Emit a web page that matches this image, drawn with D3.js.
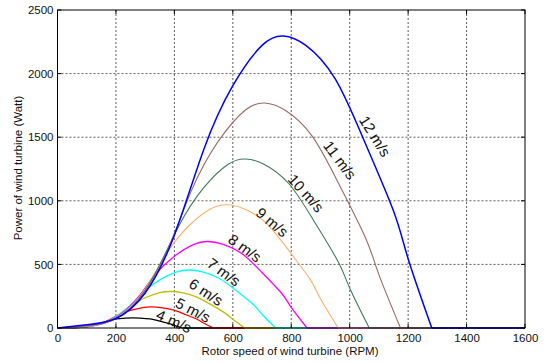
<!DOCTYPE html>
<html><head><meta charset="utf-8">
<script src="https://cdn.jsdelivr.net/npm/d3@7"></script>
<style>body{margin:0;background:#fff}svg{display:block}text{font-family:"Liberation Sans",Arial,sans-serif}</style>
</head><body><svg id="c" width="546" height="363"></svg>
<script>
const speeds = ["4 m/s","5 m/s","6 m/s","7 m/s","8 m/s","9 m/s","10 m/s","11 m/s","12 m/s"];
const rpm4 = [0,33,67,100,133,167,200,233,258,283,317,350,383,400,427];
const pw4  = [0,1,3,10,27,52,71,78,80,78,71,54,34,20,0];
const rpm5 = [0,42,83,125,167,208,250,292,322,354,396,438,479,500,534];
const pw5  = [0,2,5,20,53,101,138,161,166,161,142,106,67,39,0];
const rpm6 = [0,50,100,150,200,250,300,350,386,425,475,525,575,600,641];
const pw6  = [0,3,9,34,91,175,238,278,287,278,245,184,115,68,0];
const rpm7 = [0,58,117,175,233,292,350,408,451,496,554,613,671,700,747];
const pw7  = [0,5,15,55,145,278,378,441,456,441,389,292,183,108,0];
const rpm8 = [0,67,133,200,267,333,400,467,515,567,633,700,767,800,854];
const pw8  = [0,7,22,82,216,415,564,658,680,658,581,436,273,162,0];
const rpm9 = [0,75,150,225,300,375,450,525,580,638,713,788,863,900,961];
const pw9  = [0,10,32,116,308,591,804,937,969,937,827,620,388,230,0];
const rpm10 = [0,83,167,250,333,417,500,583,644,708,792,875,958,1000,1067];
const pw10  = [0,14,43,159,423,810,1102,1286,1329,1286,1134,851,532,315,0];
const rpm11 = [0,92,183,275,367,458,550,642,709,779,871,963,1054,1100,1174];
const pw11  = [0,19,58,212,562,1078,1467,1712,1769,1712,1510,1132,709,420,0];
const rpm12 = [0,100,200,300,400,500,600,700,773,850,950,1050,1150,1200,1281];
const pw12  = [0,25,75,275,730,1400,1905,2222,2296,2222,1960,1470,920,545,0];
const xTicks = [0,200,400,600,800,1000,1200,1400,1600];
const yTicks = [0,500,1000,1500,2000,2500];
const labelRpm = [399,464,509,570,642,735,851,967,1087];
const labelPw  = [55,142,283,440,629,833,1061,1321,1509];
const labelAngle = [24,27,33,36,36,40,48,53,58];

const colors = ["#000000","#ff0000","#bfbf00","#00ffff","#ff00ff","#fdb06a","#3d7a5a","#9a6a64","#0000ff"];
const rpmAll = [rpm4,rpm5,rpm6,rpm7,rpm8,rpm9,rpm10,rpm11,rpm12];
const pwAll = [pw4,pw5,pw6,pw7,pw8,pw9,pw10,pw11,pw12];

const L=57.5, R=525, T=10, B=328;
const svg = d3.select("#c");
const x = d3.scaleLinear().domain([0,1600]).range([L,R]);
const y = d3.scaleLinear().domain([0,2500]).range([B,T]);

// grid
const g = svg.append("g");
g.selectAll(".gx").data(xTicks.slice(1,-1)).join("line")
  .attr("x1",d=>x(d)).attr("x2",d=>x(d)).attr("y1",T).attr("y2",B)
  .attr("stroke","#333").attr("stroke-width",0.8).attr("stroke-dasharray","2,2");
g.selectAll(".gy").data(yTicks.slice(1,-1)).join("line")
  .attr("y1",d=>y(d)).attr("y2",d=>y(d)).attr("x1",L).attr("x2",R)
  .attr("stroke","#333").attr("stroke-width",0.8).attr("stroke-dasharray","2,2");

// curves
const line = d3.line().x(d=>x(d[0])).y(d=>y(d[1])).curve(d3.curveNatural);
svg.append("clipPath").attr("id","pc").append("rect").attr("x",L).attr("y",T).attr("width",R-L).attr("height",B-T+2);
const cg = svg.append("g").attr("clip-path","url(#pc)");
rpmAll.forEach((r,i)=>{
  const pts = r.map((v,j)=>[v,pwAll[i][j]]);
  const w = i===8 ? 1.5 : (i>=5 ? 1.1 : 1.3);
  cg.append("path").attr("d",line(pts)).attr("fill","none").attr("stroke",colors[i]).attr("stroke-width",w);
  const last = r[r.length-1];
  cg.append("path").attr("d",d3.line()([[x(last),y(0)],[x(1600),y(0)]])).attr("fill","none").attr("stroke",colors[i]).attr("stroke-width",w);
});

// labels
speeds.forEach((s,i)=>{
  svg.append("text").attr("transform",`translate(${x(labelRpm[i])},${y(labelPw[i])}) rotate(${labelAngle[i]})`)
    .attr("text-anchor","middle").attr("dominant-baseline","central")
    .attr("font-size",15).attr("fill","#111").text(s);
});

// frame & axes
svg.append("rect").attr("x",L).attr("y",T).attr("width",R-L).attr("height",B-T).attr("fill","none").attr("stroke","#000").attr("stroke-width",1);
const xa = svg.append("g").attr("transform",`translate(0,${B})`)
  .call(d3.axisBottom(x).tickValues(xTicks).tickSize(0).tickPadding(6).tickFormat(d3.format("d")));
const ya = svg.append("g").attr("transform",`translate(${L},0)`)
  .call(d3.axisLeft(y).tickValues(yTicks).tickSize(0).tickPadding(4).tickFormat(d3.format("d")));
[xa,ya].forEach(a=>{a.select(".domain").remove(); a.selectAll("text").attr("font-size",11.5).attr("fill","#111").attr("font-family","'Liberation Sans',Arial,sans-serif");});
// inward ticks
xTicks.forEach(t=>{
  svg.append("line").attr("x1",x(t)).attr("x2",x(t)).attr("y1",B).attr("y2",B-4).attr("stroke","#000");
  svg.append("line").attr("x1",x(t)).attr("x2",x(t)).attr("y1",T).attr("y2",T+4).attr("stroke","#000");
});
yTicks.forEach(t=>{
  svg.append("line").attr("x1",L).attr("x2",L+4).attr("y1",y(t)).attr("y2",y(t)).attr("stroke","#000");
  svg.append("line").attr("x1",R).attr("x2",R-4).attr("y1",y(t)).attr("y2",y(t)).attr("stroke","#000");
});

svg.append("text").attr("x",290).attr("y",355).attr("text-anchor","middle").attr("font-size",11.5).attr("fill","#111").text("Rotor speed of wind turbine (RPM)");
svg.append("text").attr("transform","translate(22,168) rotate(-90)").attr("text-anchor","middle").attr("font-size",11.5).attr("fill","#111").text("Power of wind turbine (Watt)");
</script></body></html>
